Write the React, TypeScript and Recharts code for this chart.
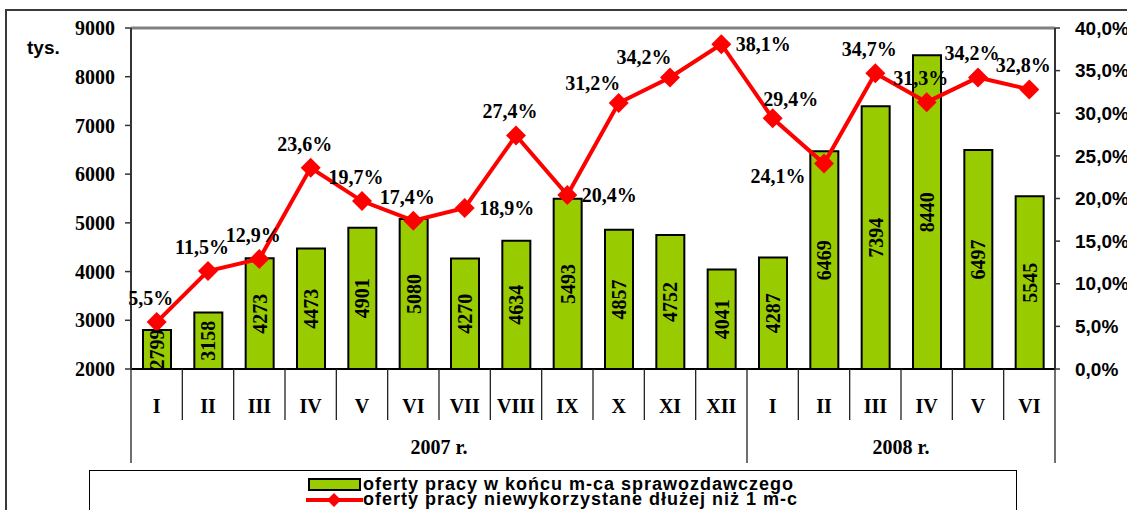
import React from "react";
import {
  ComposedChart,
  Bar,
  Line,
  XAxis,
  YAxis,
  LabelList,
  ReferenceLine,
  Legend,
} from "recharts";

const months = ["I", "II", "III", "IV", "V", "VI", "VII", "VIII", "IX", "X", "XI", "XII", "I", "II", "III", "IV", "V", "VI"];
const yearLabels = ["2007 r.", "2008 r."];
const yearMonthCounts = [12, 6];
const offers = [2799, 3158, 4273, 4473, 4901, 5080, 4270, 4634, 5493, 4857, 4752, 4041, 4287, 6469, 7394, 8440, 6497, 5545];
const unusedShare = [5.5, 11.5, 12.9, 23.6, 19.7, 17.4, 18.9, 27.4, 20.4, 31.2, 34.2, 38.1, 29.4, 24.1, 34.7, 31.3, 34.2, 32.8];
const leftTicks = [2000, 3000, 4000, 5000, 6000, 7000, 8000, 9000];
const rightTicks = [0, 5, 10, 15, 20, 25, 30, 35, 40];
// where each percentage label sits relative to its point
const shareLabelSide = ["top", "top", "top", "top", "top", "top", "right", "top", "right", "topLeft", "topLeft", "right", "topRight", "bottomLeft", "top", "top", "top", "top"];

const data = months.map((m, i) => ({ month: m, offers: offers[i], share: unusedShare[i] }));

const W = 1127;
const H = 510;
const PLOT_LEFT = 131;
const PLOT_RIGHT = 1055;
const PLOT_TOP = 28;
const PLOT_BOTTOM = 369;

const SERIF = "'Liberation Serif', 'Times New Roman', serif";
const SANS = "'Liberation Sans', Arial, sans-serif";
const GREEN = "#99CC00";
const RED = "#FF0000";

const sideOffset: Record<string, [number, number]> = {
  top: [-6, -24],
  topLeft: [-26, -20],
  topRight: [18, -19],
  right: [42, 0],
  bottomLeft: [-46, 12],
};

function MonthTick(props: any) {
  const { x, index, payload } = props;
  const step = (PLOT_RIGHT - PLOT_LEFT) / months.length;
  const left = x - step / 2;
  const right = x + step / 2;
  let start = 0;
  let group = -1;
  yearMonthCounts.forEach((c, g) => {
    if (start === index) group = g;
    start += c;
  });
  const isLast = index === months.length - 1;
  return (
    <g>
      {group < 0 ? (
        <line x1={left} x2={left} y1={PLOT_BOTTOM} y2={420} stroke="#222" strokeWidth={1.3} />
      ) : (
        <>
          <line x1={left} x2={left} y1={PLOT_BOTTOM} y2={463} stroke="#222" strokeWidth={1.3} />
          <text
            x={left + (yearMonthCounts[group] * step) / 2}
            y={454}
            textAnchor="middle"
            fontFamily={SERIF}
            fontWeight={700}
            fontSize={20}
            fill="#000"
          >
            {yearLabels[group]}
          </text>
        </>
      )}
      {isLast && <line x1={right} x2={right} y1={PLOT_BOTTOM} y2={463} stroke="#222" strokeWidth={1.3} />}
      <text x={x} y={413} textAnchor="middle" fontFamily={SERIF} fontWeight={700} fontSize={20} fill="#000">
        {payload.value}
      </text>
    </g>
  );
}

function BarValueLabel(props: any) {
  const { x, y, width, height, value } = props;
  const cx = x + width / 2;
  const cy = y + height / 2;
  return (
    <text
      x={cx}
      y={cy}
      dy="0.35em"
      textAnchor="middle"
      transform={`rotate(-90, ${cx}, ${cy})`}
      fontFamily={SERIF}
      fontWeight={700}
      fontSize={20}
      fill="#000"
    >
      {value}
    </text>
  );
}

function ShareLabel(props: any) {
  const { x, y, value, index } = props;
  const [dx, dy] = sideOffset[shareLabelSide[index]] || sideOffset.top;
  return (
    <text
      x={x + dx}
      y={y + dy}
      dy="0.35em"
      textAnchor="middle"
      fontFamily={SERIF}
      fontWeight={700}
      fontSize={20}
      fill="#000"
    >
      {value.toFixed(1).replace(".", ",")}%
    </text>
  );
}

function Diamond(props: any) {
  const { cx, cy } = props;
  if (cx == null || cy == null) return null;
  const r = 10;
  return <polygon points={`${cx},${cy - r} ${cx + r},${cy} ${cx},${cy + r} ${cx - r},${cy}`} fill={RED} />;
}

function LegendBox(props: any) {
  const payload = props.payload || [];
  const find = (k: string) => payload.find((p: any) => p.dataKey === k);
  const barItem = find("offers");
  const lineItem = find("share");
  const row: React.CSSProperties = { display: "flex", alignItems: "center", height: 15 };
  const text: React.CSSProperties = {
    fontFamily: SANS,
    fontWeight: 700,
    fontSize: 18,
    letterSpacing: 1,
    lineHeight: "15px",
    color: "#000",
    whiteSpace: "nowrap",
  };
  return (
    <div
      style={{
        boxSizing: "border-box",
        width: 928,
        height: 60,
        borderTop: "1.5px solid #000",
        borderLeft: "1.5px solid #000",
        borderRight: "1.5px solid #000",
        background: "#fff",
        paddingTop: 6,
        paddingLeft: 216,
      }}
    >
      <div style={row}>
        <svg width={57} height={15}>
          <rect x={3} y={2} width={51} height={11} fill={GREEN} stroke="#000" strokeWidth={2} />
        </svg>
        <span style={text}>{barItem ? barItem.value : ""}</span>
      </div>
      <div style={row}>
        <svg width={57} height={15}>
          <line x1={0} x2={57} y1={8} y2={8} stroke={RED} strokeWidth={4} />
          <polygon points="28,1 35,8 28,15 21,8" fill={RED} />
        </svg>
        <span style={text}>{lineItem ? lineItem.value : ""}</span>
      </div>
    </div>
  );
}

export default function App() {
  return (
    <div style={{ position: "absolute", left: 0, top: 0, width: W, height: H, background: "#fff" }}>
      <ComposedChart width={W} height={H} data={data} margin={{ top: PLOT_TOP, right: 0, bottom: 0, left: 0 }}>
        <rect x={6} y={10} width={1140} height={520} fill="none" stroke="#3a3a3a" strokeWidth={2} />
        <text x={27} y={54} fontFamily={SANS} fontWeight={700} fontSize={19} fill="#000">
          tys.
        </text>
        <XAxis
          dataKey="month"
          interval={0}
          height={H - PLOT_BOTTOM}
          tickLine={false}
          axisLine={{ stroke: "#000", strokeWidth: 2 }}
          tick={<MonthTick />}
        />
        <YAxis
          yAxisId="left"
          domain={[2000, 9000]}
          ticks={leftTicks}
          interval={0}
          width={PLOT_LEFT}
          tickSize={6}
          tickMargin={10}
          axisLine={{ stroke: "#333", strokeWidth: 2 }}
          tickLine={{ stroke: "#333", strokeWidth: 1.5 }}
          tick={{ fontFamily: SERIF, fontWeight: 700, fontSize: 20, fill: "#000" }}
        />
        <YAxis
          yAxisId="right"
          orientation="right"
          domain={[0, 40]}
          ticks={rightTicks}
          interval={0}
          width={W - PLOT_RIGHT}
          tickSize={5}
          tickMargin={15}
          tickFormatter={(v: number) => v.toFixed(1).replace(".", ",") + "%"}
          axisLine={{ stroke: "#333", strokeWidth: 2 }}
          tickLine={{ stroke: "#333", strokeWidth: 1.5 }}
          tick={{ fontFamily: SANS, fontWeight: 700, fontSize: 19, fill: "#000" }}
        />
        <ReferenceLine yAxisId="left" y={9000} stroke="#808080" strokeWidth={3} />
        <Bar
          yAxisId="left"
          dataKey="offers"
          name="oferty pracy w końcu m-ca sprawozdawczego"
          fill={GREEN}
          stroke="#000"
          strokeWidth={2}
          barSize={28}
          isAnimationActive={false}
        >
          <LabelList dataKey="offers" content={<BarValueLabel />} />
        </Bar>
        <Line
          yAxisId="right"
          dataKey="share"
          name="oferty pracy niewykorzystane dłużej niż 1 m-c"
          stroke={RED}
          strokeWidth={4}
          dot={<Diamond />}
          activeDot={false}
          isAnimationActive={false}
        >
          <LabelList dataKey="share" content={<ShareLabel />} />
        </Line>
        <Legend
          layout="horizontal"
          align="center"
          verticalAlign="middle"
          content={<LegendBox />}
          wrapperStyle={{ left: 89, top: 470, width: 928, height: 60 }}
        />
      </ComposedChart>
    </div>
  );
}
